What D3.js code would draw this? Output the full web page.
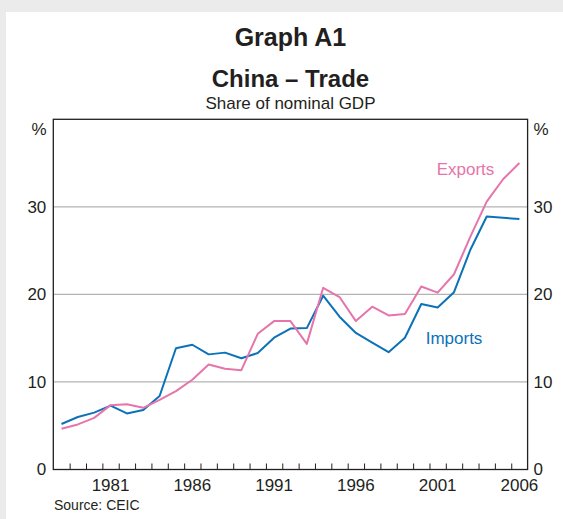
<!DOCTYPE html>
<html><head><meta charset="utf-8">
<script src="https://cdn.jsdelivr.net/npm/d3@7"></script>
<style>
html,body{margin:0;padding:0;background:#ebebeb;}
svg{display:block;font-family:"Liberation Sans",Arial,sans-serif;}
</style></head>
<body>
<svg id="chart" width="563" height="519"></svg>
<script>
const years = d3.range(1978, 2007);
const imports = [5.2,6.0,6.5,7.3,6.4,6.8,8.4,13.85,14.25,13.15,13.35,12.7,13.3,15.05,16.1,16.15,
  19.85,17.45,15.6,14.5,13.4,15.05,18.9,18.5,20.25,25.1,28.9,28.75,28.6];
const exports = [4.65,5.15,5.9,7.35,7.45,7.05,7.95,8.95,10.25,12.0,11.5,11.35,15.5,16.95,16.95,14.35,
  20.75,19.7,16.95,18.6,17.6,17.75,20.9,20.2,22.3,26.6,30.6,33.15,35.0];
const yTicks = [0,10,20,30];
const xLabelYears = [1981,1986,1991,1996,2001,2006];

const svg = d3.select("#chart");
const L = 53.3, R = 527.6, T = 119.3, B = 469.5;
const x = d3.scaleLinear().domain([1978, 2007]).range([L, R]);
const y = d3.scaleLinear().domain([0, 40]).range([B, T]);
const ink = "#231f20";

svg.append("rect").attr("x",6).attr("y",12).attr("width",600).attr("height",600).attr("fill","#fff");

// titles
const cx = (L+R)/2;
svg.append("text").attr("x",cx).attr("y",45.7).attr("text-anchor","middle")
  .attr("font-size",25).attr("font-weight","bold").attr("fill",ink).text("Graph A1");
svg.append("text").attr("x",cx).attr("y",87.3).attr("text-anchor","middle")
  .attr("font-size",24).attr("font-weight","bold").attr("fill",ink).text("China – Trade");
svg.append("text").attr("x",cx).attr("y",108.8).attr("text-anchor","middle")
  .attr("font-size",17).attr("fill",ink).text("Share of nominal GDP");

// gridlines
svg.append("g").selectAll("line").data(yTicks.filter(d=>d>0)).join("line")
  .attr("x1",L).attr("x2",R).attr("y1",d=>y(d)).attr("y2",d=>y(d))
  .attr("stroke","#b3b3b3").attr("stroke-width",1.2);

// axes labels via d3 axes
const axL = d3.axisLeft(y).tickValues(yTicks).tickSize(0).tickPadding(7);
const gL = svg.append("g").attr("transform",`translate(${L},0)`).call(axL);
const axR = d3.axisRight(y).tickValues(yTicks).tickSize(0).tickPadding(6);
const gR = svg.append("g").attr("transform",`translate(${R},0)`).call(axR);
[gL,gR].forEach(g=>{
  g.select(".domain").remove();
  g.selectAll("text").attr("font-size",17).attr("fill",ink).attr("font-family","Liberation Sans, Arial, sans-serif");
});
svg.append("text").attr("x",46.5).attr("y",135).attr("text-anchor","end").attr("font-size",17).attr("fill",ink).text("%");
svg.append("text").attr("x",533.5).attr("y",135).attr("text-anchor","start").attr("font-size",17).attr("fill",ink).text("%");

// x ticks (year boundaries)
const axB = d3.axisTop(x).tickValues(d3.range(1979, 2007)).tickSize(6).tickFormat("");
const gB = svg.append("g").attr("transform",`translate(0,${B})`).call(axB);
gB.select(".domain").remove();
gB.selectAll("line").attr("stroke",ink).attr("stroke-width",1);

// x labels centred on mid-year
svg.append("g").selectAll("text").data(xLabelYears).join("text")
  .attr("x",d=>x(d+0.5)).attr("y",491).attr("text-anchor","middle")
  .attr("font-size",17).attr("fill",ink).text(d=>d);

// frame
svg.append("rect").attr("x",L).attr("y",T).attr("width",R-L).attr("height",B-T)
  .attr("fill","none").attr("stroke",ink).attr("stroke-width",1.3);

// lines
const line = d3.line().x((d,i)=>x(years[i]+0.5)).y(d=>y(d));
svg.append("path").datum(imports).attr("d",line).attr("fill","none")
  .attr("stroke","#0b72b9").attr("stroke-width",2).attr("stroke-linejoin","round");
svg.append("path").datum(exports).attr("d",line).attr("fill","none")
  .attr("stroke","#e575aa").attr("stroke-width",2).attr("stroke-linejoin","round");

svg.append("text").attr("x",436.7).attr("y",174.5).attr("font-size",17).attr("fill","#e575aa").text("Exports");
svg.append("text").attr("x",425.7).attr("y",344).attr("font-size",17).attr("fill","#0b72b9").text("Imports");

svg.append("text").attr("x",54).attr("y",510).attr("font-size",14).attr("fill",ink).text("Source: CEIC");
</script>
</body></html>
